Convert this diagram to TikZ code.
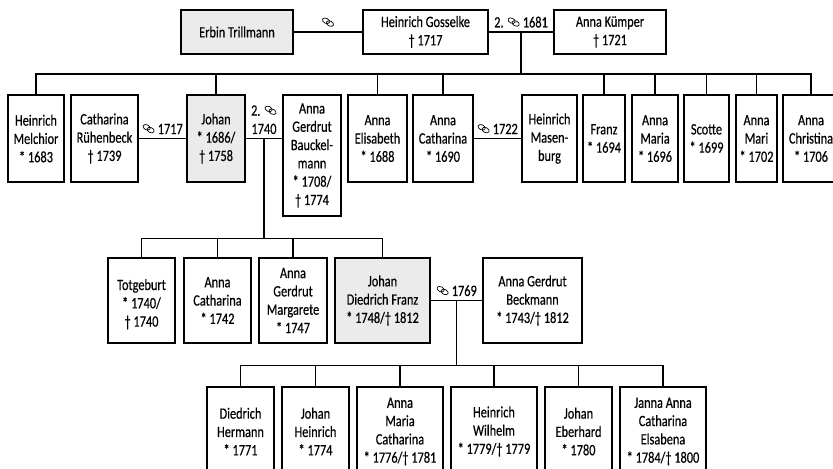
\documentclass[tikz,border=0pt]{standalone}
\usepackage{fontspec}
\setmainfont{Carlito}[FakeStretch=0.78, FakeBold=0.4]
\usetikzlibrary{calc}
\newcommand{\marr}{\tikz[baseline=0pt, x=1pt, y=1pt, line width=0.35pt]{%
  \draw[rotate around={-25:(1.9,3.4)}] (1.9,3.4) ellipse [x radius=1.9, y radius=1.25];
  \draw[rotate around={-25:(3.9,2.0)}] (3.9,2.0) ellipse [x radius=1.9, y radius=1.25];}}

\begin{document}
\begin{tikzpicture}[x=0.5pt, y=-0.5pt, line width=0.7pt, line cap=rect,
    person/.style={draw, fill=white, align=center, inner sep=1pt, font=\fontsize{7.9}{9.15}\selectfont},
    main/.style={person, fill=black!8},
    wd/.style={minimum width=#1*0.5pt},
    ht/.style={minimum height=#1*0.5pt},
    wed/.style={font=\fontsize{7.9}{9.15}\selectfont, align=center, inner sep=0pt, above=2pt}]
  \useasboundingbox (0,0) rectangle (833,469);
  \clip (0,0) rectangle (833,469);

  \node[main, wd=112, ht=44] (erbin) at (237,32) {Erbin Trillmann};
  \node[person, wd=125, ht=44] (gosselke) at (425.5,32) {Heinrich Gosselke\\† 1717};
  \node[person, wd=112, ht=44] (kuemper) at (610,32) {Anna Kümper\\† 1721};

  \node[person, wd=56, ht=87] (melchior) at (36,138.5) {Heinrich\\Melchior\\* 1683};
  \node[person, wd=67, ht=87] (ruehenbeck) at (104.5,138.5) {Catharina\\Rühenbeck\\† 1739};
  \node[main, wd=58, ht=87] (johan) at (216,138.5) {Johan\\* 1686/\\† 1758};
  \node[person, wd=58, ht=121] (bauckelmann) at (312,155.5) {Anna\\Gerdrut\\Bauckel-\\mann\\* 1708/\\† 1774};
  \node[person, wd=59, ht=87] (elisabeth) at (377.5,138.5) {Anna\\Elisabeth\\* 1688};
  \node[person, wd=60, ht=87] (catharina) at (443,138.5) {Anna\\Catharina\\* 1690};
  \node[person, wd=55, ht=87] (masenburg) at (549.5,138.5) {Heinrich\\Masen-\\burg};
  \node[person, wd=42, ht=87] (franz) at (604,138.5) {Franz\\* 1694};
  \node[person, wd=46, ht=87] (amaria) at (655,138.5) {Anna\\Maria\\* 1696};
  \node[person, wd=45, ht=87] (scotte) at (706.5,138.5) {Scotte\\* 1699};
  \node[person, wd=41, ht=87] (amari) at (756.5,138.5) {Anna\\Mari\\* 1702};
  \node[person, wd=56, ht=87] (christina) at (811,138.5) {Anna\\Christina\\* 1706};

  \node[person, wd=67, ht=85] (totgeburt) at (141.5,300.5) {\mbox{}\\Totgeburt\\* 1740/\\† 1740};
  \node[person, wd=67, ht=85] (acatharina) at (217.5,300.5) {Anna\\Catharina\\* 1742};
  \node[person, wd=68, ht=85] (margarete) at (293,300.5) {Anna\\Gerdrut\\Margarete\\* 1747};
  \node[main, wd=95, ht=85] (jdfranz) at (382.5,300.5) {Johan\\Diedrich Franz\\* 1748/† 1812};
  \node[person, wd=99, ht=85] (beckmann) at (532.5,300.5) {Anna Gerdrut\\Beckmann\\* 1743/† 1812};

  \node[person, wd=67, ht=89] (dhermann) at (240.5,431.5) {Diedrich\\Hermann\\* 1771};
  \node[person, wd=67, ht=89] (jheinrich) at (315.5,431.5) {Johan\\Heinrich\\* 1774};
  \node[person, wd=86, ht=89] (amcatharina) at (400,431.5) {Anna\\Maria\\Catharina\\* 1776/† 1781};
  \node[person, wd=86, ht=89] (hwilhelm) at (494,431.5) {Heinrich\\Wilhelm\\* 1779/† 1779};
  \node[person, wd=67, ht=89] (jeberhard) at (578.5,431.5) {Johan\\Eberhard\\* 1780};
  \node[person, wd=86, ht=89] (janna) at (663,431.5) {Janna Anna\\Catharina\\Elsabena\\* 1784/† 1800};

  \draw (erbin) -- (gosselke) node[wed, midway] {\marr};
  \draw (gosselke) -- (kuemper) node[wed, midway] {2. \marr\ 1681};
  \draw (ruehenbeck.east) -- (johan.west) node[wed, midway] {\marr\ 1717};
  \draw (johan.east) -- (johan.east -| bauckelmann.west) node[wed, midway] {2. \marr\\1740};
  \draw (catharina) -- (masenburg) node[wed, midway] {\marr\ 1722};
  \draw (jdfranz) -- (beckmann) node[wed, midway] {\marr\ 1769};

  \coordinate (w1) at ($(gosselke.east)!0.5!(kuemper.west)$);
  \coordinate (b1) at ($(w1)+(0,42)$);
  \coordinate (w2) at ($(johan.east)!0.5!(johan.east -| bauckelmann.west)$);
  \coordinate (b2) at ($(w2)+(0,100)$);
  \coordinate (w3) at ($(jdfranz.east)!0.5!(beckmann.west)$);
  \coordinate (b3) at ($(w3)+(0,65)$);

  \draw (w1) -- (b1);
  \draw (b1 -| melchior.north) -- (b1 -| christina.north);
  \foreach \c in {melchior,johan,elisabeth,catharina,franz,amaria,scotte,amari,christina}
    \draw (b1 -| \c.north) -- (\c.north);

  \draw (w2) -- (b2);
  \draw (b2 -| totgeburt.north) -- (b2 -| jdfranz.north);
  \foreach \c in {totgeburt,acatharina,margarete,jdfranz}
    \draw (b2 -| \c.north) -- (\c.north);

  \draw (w3) -- (b3);
  \draw (b3 -| dhermann.north) -- (b3 -| janna.north);
  \foreach \c in {dhermann,jheinrich,amcatharina,hwilhelm,jeberhard,janna}
    \draw (b3 -| \c.north) -- (\c.north);
\end{tikzpicture}
\end{document}
